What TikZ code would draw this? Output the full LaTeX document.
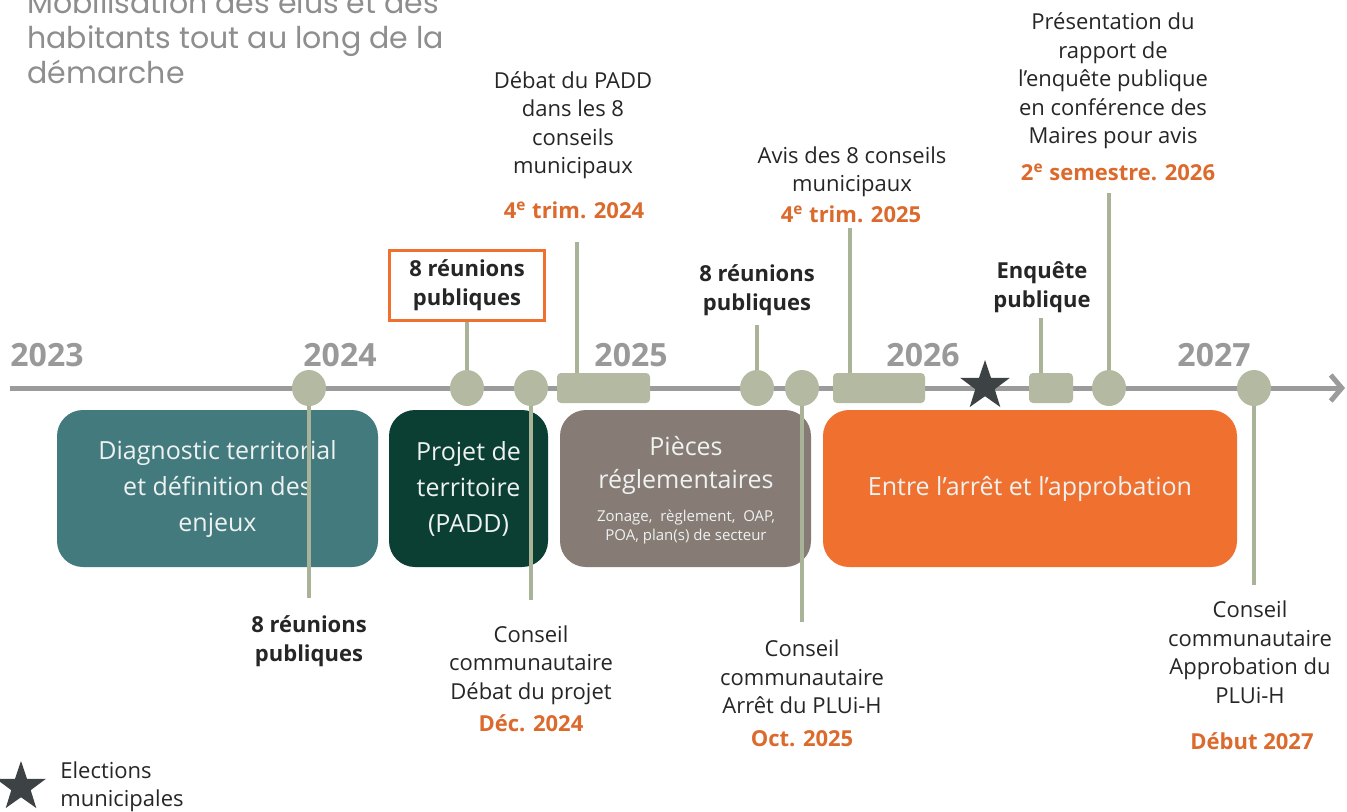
\documentclass[tikz,border=0pt]{standalone}
\usepackage{fontspec}
\setmainfont{Open Sans}
\newfontfamily\titlefont{Poppins}
\usetikzlibrary{shapes.geometric,arrows.meta}
\definecolor{caxis}{HTML}{9B9B9B}
\definecolor{csage}{HTML}{B4BAA2}
\definecolor{csageline}{HTML}{A9B398}
\definecolor{cteal}{HTML}{437A7E}
\definecolor{cdark}{HTML}{0B3F33}
\definecolor{cbrown}{HTML}{867B75}
\definecolor{corange}{HTML}{F0712F}
\definecolor{cdate}{HTML}{DC6A2C}
\definecolor{ctext}{HTML}{262626}
\definecolor{cyear}{HTML}{999999}
\definecolor{ctitle}{HTML}{8E8E8E}
\definecolor{cstar}{HTML}{3D4245}
\definecolor{cphase}{HTML}{EEF2F1}
\pgfdeclarelayer{back}
\pgfdeclarelayer{mid}
\pgfsetlayers{back,mid,main}
\tikzset{
 lbl/.style={align=center, text=ctext, font=\fontsize{11}{14.25}\selectfont, inner sep=0pt},
 lblb/.style={align=center, text=ctext, font=\fontsize{11}{14.25}\selectfont\bfseries, inner sep=0pt},
 datelbl/.style={align=center, text=cdate, font=\fontsize{11}{14}\selectfont\bfseries, inner sep=0pt},
 yearlbl/.style={text=cyear, font=\fontsize{16}{16}\selectfont\bfseries, inner sep=0pt},
 ttl/.style={text=ctitle, font=\titlefont\fontsize{15}{17.5}\selectfont, inner sep=0pt},
 evdot/.style={ellipse, fill=csage, minimum width=17pt, minimum height=18pt, inner sep=0pt},
 evbar/.style={rectangle, rounded corners=2pt, fill=csage, minimum height=15pt, inner sep=0pt},
 conn/.style={draw=csageline, line width=2pt},
 axisline/.style={draw=caxis, line width=2.5pt, -{Straight Barb[length=5.5pt,width=13pt]}},
 phase/.style={rectangle, rounded corners=13pt, minimum height=78.5pt, inner sep=0pt, align=center, text=cphase, font=\fontsize{12.5}{18}\selectfont},
 elect/.style={star, star points=5, star point ratio=2.55, fill=cstar, minimum size=26pt, inner sep=0pt},
}
\begin{document}
\begin{tikzpicture}[x=0.5pt,y=-0.5pt]
\useasboundingbox (0,0) rectangle (1347,811);
\begin{pgfonlayer}{back}
\fill[white] (0,0) rectangle (1347,811);
\end{pgfonlayer}

% title
\begin{scope}
\clip (0,0) rectangle (1347,811);
\node[ttl, anchor=base west] (ti1) at (27,13) {Mobilisation des élus et des};
\node[ttl, anchor=base west] (ti2) at (27,48) {habitants tout au long de la};
\node[ttl, anchor=base west] (ti3) at (27,83) {démarche};
\end{scope}

% phases
\begin{pgfonlayer}{back}
\node[phase, fill=cteal, minimum width=160.5pt] (p1) at (217.5,488.5) {Diagnostic territorial\\et définition des\\enjeux};
\node[phase, fill=cdark, minimum width=79.5pt] (p2) at (468.5,488.5) {Projet de\\territoire\\(PADD)};
\node[phase, fill=cbrown, minimum width=125.5pt] (p3) at (685.5,488.5) {};
\node[phase, fill=corange, minimum width=207pt] (p4) at (1030,488.5) {Entre l’arrêt et l’approbation};
\end{pgfonlayer}
\node[align=center, text=cphase, font=\fontsize{12.5}{16.5}\selectfont, inner sep=0pt] (p3t) at (686,465) {Pièces\\réglementaires};
\node[align=center, text=cphase, font=\fontsize{7.5}{9.5}\selectfont, inner sep=0pt] (p3s) at (686,527.5) {Zonage,\ \ règlement,\ \ OAP,\\POA, plan(s) de secteur};

% years
\node[yearlbl] (y23) at (47,355) {2023};
\node[yearlbl] (y24) at (340,355) {2024};
\node[yearlbl] (y25) at (631,355) {2025};
\node[yearlbl] (y26) at (923,355) {2026};
\node[yearlbl] (y27) at (1214,355) {2027};

% axis
\coordinate (ax0) at (10,388);
\coordinate (ax1) at (1345,388);
\begin{pgfonlayer}{mid}
\draw[axisline] (ax0) -- (ax1);
\end{pgfonlayer}

% markers
\node[evdot] (m1) at (309,388) {};
\node[evdot] (m2) at (467,388) {};
\node[evdot] (m3) at (531,388) {};
\node[evbar, minimum width=46.5pt] (r1) at (603.5,388) {};
\node[evdot] (m4) at (757,388) {};
\node[evdot] (m5) at (802,388) {};
\node[evbar, minimum width=46pt] (r2) at (879,388) {};
\node[elect] (st) at (985,386) {};
\node[evbar, minimum width=22pt] (r3) at (1051,388) {};
\node[evdot] (m6) at (1109,388) {};
\node[evdot] (m7) at (1254,388) {};

% top labels
\node[lbl] (tA) at (573,125) {Débat du PADD\\dans les 8\\conseils\\municipaux};
\node[datelbl] (tAd) at (574,210) {4\textsuperscript{e} trim. 2024};
\node[lblb, draw=corange, line width=1.5pt, fill=white, minimum width=77.5pt, minimum height=35pt] (tB) at (467,285) {8 réunions\\publiques};
\node[lblb] (tC) at (757,290) {8 réunions\\publiques};
\node[lbl] (tD) at (852,172) {Avis des 8 conseils\\municipaux};
\node[datelbl] (tDd) at (851,214) {4\textsuperscript{e} trim. 2025};
\node[lblb] (tE) at (1042,287) {Enquête\\publique};
\node[lbl] (tF) at (1113,81) {Présentation du\\rapport de\\l’enquête publique\\en conférence des\\Maires pour avis};
\node[datelbl] (tFd) at (1118,172) {2\textsuperscript{e} semestre. 2026};

% bottom labels
\node[lblb] (bA) at (309,641) {8 réunions\\publiques};
\node[lbl] (bB) at (531,665) {Conseil\\communautaire\\Débat du projet};
\node[datelbl] (bBd) at (531,723) {Déc. 2024};
\node[lbl] (bC) at (802,677) {Conseil\\communautaire\\Arrêt du PLUi-H};
\node[datelbl] (bCd) at (802,739) {Oct. 2025};
\node[lbl] (bD) at (1250,652) {Conseil\\communautaire\\Approbation du\\PLUi-H};
\node[datelbl] (bDd) at (1252,741) {Début 2027};

% connectors
\coordinate (e1) at (309,598);
\coordinate (e3) at (531,600);
\coordinate (e4) at (577,242);
\coordinate (e5) at (757,325);
\coordinate (e6) at (802,622);
\coordinate (e7) at (850,228);
\coordinate (e8) at (1041,318);
\coordinate (e9) at (1109,193);
\coordinate (e10) at (1254,585);
\begin{pgfonlayer}{mid}
\draw[conn] (m1) -- (e1);
\draw[conn] (m2) -- (tB.south);
\draw[conn] (m3) -- (e3);
\draw[conn] (e4 |- r1.center) -- (e4);
\draw[conn] (m4) -- (e5);
\draw[conn] (m5) -- (e6);
\draw[conn] (e7 |- r2.center) -- (e7);
\draw[conn] (e8 |- r3.center) -- (e8);
\draw[conn] (m6) -- (e9);
\draw[conn] (m7) -- (e10);
\end{pgfonlayer}

% legend
\node[elect] (lgs) at (21,787) {};
\node[lbl, align=left, anchor=west] (lgt) at (60,787) {Elections\\municipales};
\end{tikzpicture}
\end{document}
